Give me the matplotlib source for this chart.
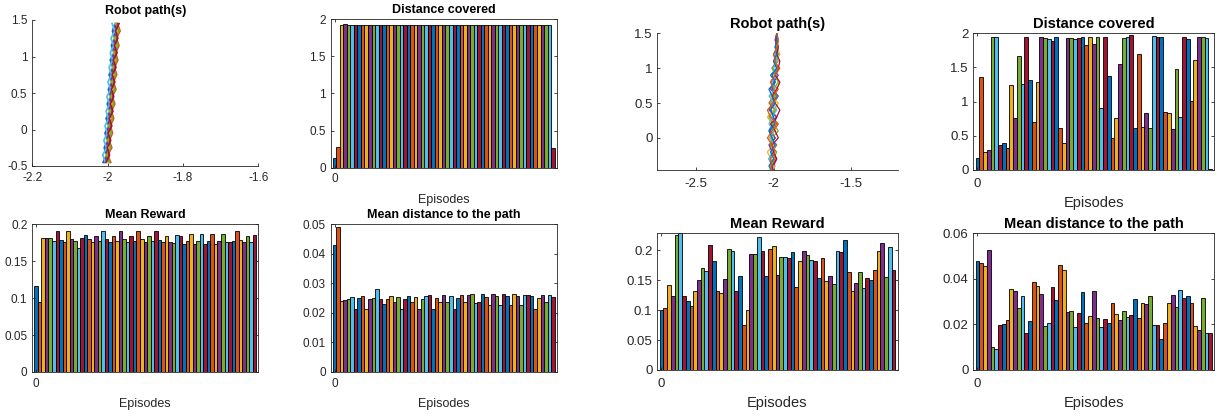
import matplotlib
matplotlib.use("Agg")
import matplotlib.pyplot as plt
from matplotlib.ticker import FuncFormatter

plt.rcParams["font.family"] = ["Liberation Sans", "DejaVu Sans"]
plt.rcParams["axes.unicode_minus"] = False

# MATLAB default colour order
MATLAB_COLORS = ["#0072BD", "#D95319", "#EDB120", "#7E2F8E",
                 "#77AC30", "#4DBEEE", "#A2142F"]
AX_COLOR = "#262626"
W, H = 1219, 418

# ---------------- left figure (short run) ----------------
left_distance = [0.13, 0.28] + [1.92, 1.935] + [1.92] * 58 + [0.26]

left_reward = [0.116, 0.095, 0.182, 0.181, 0.181, 0.177, 0.191, 0.179, 0.176, 0.191,
               0.180, 0.178, 0.168, 0.181, 0.186, 0.180, 0.176, 0.184, 0.177, 0.191,
               0.180, 0.176, 0.184, 0.177, 0.191, 0.180, 0.176, 0.184, 0.177, 0.191,
               0.180, 0.176, 0.184, 0.177, 0.191, 0.179, 0.176, 0.184, 0.176, 0.175,
               0.186, 0.184, 0.174, 0.178, 0.187, 0.174, 0.177, 0.187, 0.174, 0.177,
               0.187, 0.174, 0.177, 0.187, 0.176, 0.176, 0.177, 0.191, 0.179, 0.176,
               0.184, 0.176, 0.185]

left_path_dist = [0.0430, 0.0492, 0.0240, 0.0244, 0.0246, 0.0255, 0.0213, 0.0250, 0.0258, 0.0214,
                  0.0248, 0.0252, 0.0282, 0.0246, 0.0229, 0.0248, 0.0258, 0.0236, 0.0255, 0.0212,
                  0.0248, 0.0258, 0.0236, 0.0255, 0.0212, 0.0248, 0.0258, 0.0260, 0.0213, 0.0250,
                  0.0237, 0.0260, 0.0236, 0.0258, 0.0213, 0.0250, 0.0260, 0.0237, 0.0262, 0.0264,
                  0.0232, 0.0237, 0.0265, 0.0255, 0.0227, 0.0265, 0.0257, 0.0228, 0.0265, 0.0257,
                  0.0227, 0.0265, 0.0257, 0.0227, 0.0260, 0.0260, 0.0258, 0.0213, 0.0250, 0.0260,
                  0.0237, 0.0262, 0.0255]

left_path_y = [-0.45, -0.35, -0.25, -0.15, -0.05, 0.05, 0.15, 0.25, 0.35, 0.45,
               0.55, 0.65, 0.75, 0.85, 0.95, 1.05, 1.15, 1.25, 1.35, 1.45]
left_paths_x = [
    [-2.012, -2.003, -2.009, -2.000, -2.007, -1.997, -2.004, -1.994, -2.001, -1.992,
     -1.998, -1.989, -1.996, -1.986, -1.993, -1.983, -1.990, -1.981, -1.987, -1.980],
    [-1.992, -2.000, -1.989, -1.996, -1.987, -1.993, -1.984, -1.990, -1.981, -1.988,
     -1.978, -1.985, -1.976, -1.982, -1.973, -1.979, -1.970, -1.977, -1.967, -1.974],
    [-1.998, -2.005, -1.995, -2.002, -1.993, -1.999, -1.990, -1.996, -1.987, -1.994,
     -1.984, -1.991, -1.982, -1.988, -1.979, -1.985, -1.976, -1.983, -1.973, -1.980],
    [-2.009, -2.000, -2.006, -1.997, -2.004, -1.994, -2.001, -1.991, -1.998, -1.989,
     -1.995, -1.986, -1.993, -1.983, -1.990, -1.980, -1.987, -1.978, -1.984, -1.975],
    [-1.995, -2.002, -1.992, -1.999, -1.990, -1.996, -1.987, -1.993, -1.984, -1.991,
     -1.981, -1.988, -1.979, -1.985, -1.976, -1.982, -1.973, -1.980, -1.970, -1.977],
    [-2.006, -2.013, -2.003, -2.010, -2.001, -2.007, -1.998, -2.004, -1.995, -2.002,
     -1.992, -1.999, -1.990, -1.996, -1.987, -1.993, -1.984, -1.991, -1.981, -1.988],
    [-2.004, -1.995, -2.001, -1.992, -1.999, -1.989, -1.996, -1.986, -1.993, -1.984,
     -1.990, -1.981, -1.988, -1.978, -1.985, -1.975, -1.982, -1.973, -1.979, -1.970],
]

# ---------------- right figure (learning run) ----------------
right_distance = [0.17, 1.36, 0.27, 0.29, 1.94, 1.94, 0.36, 0.39, 0.32, 1.24,
                  0.76, 1.67, 1.26, 1.94, 1.32, 0.70, 1.29, 1.94, 1.93, 1.92,
                  1.89, 1.94, 0.62, 0.39, 1.93, 1.93, 1.92, 1.93, 1.95, 1.83,
                  1.94, 1.84, 1.94, 0.90, 1.95, 1.37, 0.47, 0.76, 1.55, 1.93,
                  1.95, 1.97, 0.61, 1.70, 0.63, 0.83, 0.62, 1.96, 1.94, 1.94,
                  0.85, 0.83, 0.60, 1.48, 0.78, 1.94, 1.92, 1.01, 1.61, 1.94,
                  1.94, 1.93, 0.02]

right_reward = [0.1005, 0.103, 0.141, 0.123, 0.2246, 0.229, 0.124, 0.115, 0.106, 0.131,
                0.150, 0.170, 0.165, 0.208, 0.182, 0.132, 0.129, 0.151, 0.202, 0.198,
                0.132, 0.157, 0.075, 0.0995, 0.193, 0.193, 0.222, 0.198, 0.157, 0.201,
                0.206, 0.159, 0.189, 0.189, 0.187, 0.196, 0.139, 0.182, 0.198, 0.191,
                0.184, 0.182, 0.154, 0.187, 0.148, 0.157, 0.144, 0.198, 0.197, 0.217,
                0.164, 0.131, 0.145, 0.164, 0.136, 0.154, 0.150, 0.166, 0.198, 0.212,
                0.155, 0.205, 0.166]

right_path_dist = [0.0478, 0.0469, 0.0457, 0.0525, 0.0103, 0.0094, 0.0196, 0.0204, 0.0218, 0.0354,
                   0.0347, 0.0273, 0.0326, 0.0161, 0.0217, 0.0385, 0.0369, 0.0332, 0.0192, 0.0205,
                   0.0366, 0.0307, 0.0462, 0.0441, 0.0254, 0.0257, 0.0189, 0.0249, 0.0342, 0.0208,
                   0.0236, 0.0347, 0.0227, 0.0189, 0.0226, 0.0205, 0.0292, 0.0246, 0.0221, 0.0258,
                   0.0232, 0.0240, 0.0311, 0.0227, 0.0296, 0.0289, 0.0323, 0.0196, 0.0196, 0.0136,
                   0.0206, 0.0293, 0.0329, 0.0276, 0.0351, 0.0316, 0.0323, 0.0292, 0.0195, 0.0174,
                   0.0314, 0.0161, 0.0161]

right_path_y = [-0.5, -0.4, -0.3, -0.2, -0.1, 0.0, 0.1, 0.2, 0.3, 0.4, 0.5,
                0.6, 0.7, 0.8, 0.9, 1.0, 1.1, 1.2, 1.3, 1.4, 1.5]
right_paths_x = [
    [-2.02, -2.01, -2.03, -2.00, -2.02, -1.99, -2.03, -2.01, -1.98, -2.02, -2.00,
     -1.97, -2.01, -1.99, -2.02, -1.98, -2.00, -1.97, -1.99, -1.98, -1.98],
    [-2.00, -2.02, -1.99, -2.01, -1.98, -2.02, -2.00, -1.97, -2.01, -1.99, -2.03,
     -2.00, -1.97, -2.02, -1.99, -1.96, -2.00, -1.98, -1.97, -1.99, -1.98],
    [-2.01, -1.99, -2.02, -2.04, -2.00, -2.03, -1.99, -2.01, -2.04, -2.00, -1.97,
     -2.02, -1.98, -1.96, -2.00, -1.97, -1.99, -1.96, -1.98, -1.97, -1.98],
    [-2.03, -2.00, -1.98, -2.01, -2.03, -1.99, -2.02, -2.00, -1.98, -2.03, -2.01,
     -1.98, -2.02, -2.00, -1.97, -2.01, -1.98, -2.00, -1.97, -1.99, -1.98],
    [-1.99, -2.02, -2.00, -1.98, -2.02, -2.01, -1.97, -2.00, -2.03, -1.99, -2.02,
     -1.99, -2.00, -1.97, -1.99, -2.01, -1.97, -1.99, -1.98, -1.97, -1.98],
    [-2.02, -2.00, -2.03, -2.01, -1.99, -2.02, -2.00, -2.03, -2.01, -1.98, -2.00,
     -2.03, -1.99, -2.01, -1.98, -2.00, -1.98, -1.99, -1.97, -1.98, -1.98],
    [-2.00, -2.01, -1.98, -2.00, -2.01, -1.97, -1.99, -2.02, -1.98, -1.96, -1.99,
     -2.01, -1.98, -1.96, -1.99, -1.97, -1.96, -1.98, -1.97, -1.98, -1.98],
    [-2.01, -2.03, -2.00, -2.02, -1.99, -2.01, -2.03, -1.99, -2.00, -2.02, -1.99,
     -2.01, -2.03, -1.99, -2.01, -1.98, -2.00, -1.98, -1.99, -1.98, -1.98],
    [-2.03, -2.01, -2.02, -1.99, -2.01, -2.04, -2.01, -1.98, -2.02, -2.04, -2.00,
     -1.98, -2.00, -2.02, -1.99, -1.97, -1.99, -2.00, -1.98, -1.97, -1.98],
]


def px_rect(l, t, r, b):
    """Axes rectangle from pixel edges (origin top-left)."""
    return [l / W, 1 - b / H, (r - l) / W, (b - t) / H]


def style_axes(ax, fs, xpad, ypad, box=True):
    for side, sp in ax.spines.items():
        sp.set_color(AX_COLOR)
        sp.set_linewidth(0.6)
    if not box:
        ax.spines["top"].set_visible(False)
        ax.spines["right"].set_visible(False)
    ax.tick_params(direction="in", length=2.5, width=0.6, colors=AX_COLOR,
                   labelsize=fs, top=box, right=box)
    ax.tick_params(axis="x", pad=xpad)
    ax.tick_params(axis="y", pad=ypad)
    fmt = FuncFormatter(lambda v, p: "%g" % v)
    ax.xaxis.set_major_formatter(fmt)
    ax.yaxis.set_major_formatter(fmt)


def bar_panel(ax, values, title, ylim, yticks, fs, tfs, xpad, ypad, tpad, lpad):
    colors = [MATLAB_COLORS[i % 7] for i in range(len(values))]
    ax.bar(range(len(values)), values, width=1.0, color=colors,
           edgecolor="black", linewidth=0.6)
    ax.set_xlim(-1.1, len(values) + 0.1)
    ax.set_ylim(*ylim)
    ax.set_yticks(yticks)
    ax.set_xticks([0])
    style_axes(ax, fs, xpad, ypad)
    ax.set_title(title, fontsize=tfs, fontweight="bold", pad=tpad)
    ax.set_xlabel("Episodes", fontsize=tfs, color=AX_COLOR, labelpad=lpad)


def path_panel(ax, ys, paths, xlim, ylim, xticks, yticks, fs, tfs, xpad, ypad, tpad, lw):
    for i, xs in enumerate(paths):
        ax.plot(xs, ys, color=MATLAB_COLORS[i % 7], linewidth=lw)
    ax.set_xlim(*xlim)
    ax.set_ylim(*ylim)
    ax.set_xticks(xticks)
    ax.set_yticks(yticks)
    style_axes(ax, fs, xpad, ypad, box=False)
    ax.set_title("Robot path(s)", fontsize=tfs, fontweight="bold", pad=tpad)


fig = plt.figure(figsize=(W / 100, H / 100), dpi=100)

# left figure
ax = fig.add_axes(px_rect(32.3, 20, 258.3, 166))
path_panel(ax, left_path_y, left_paths_x, (-2.2, -1.6), (-0.5, 1.5),
           [-2.2, -2, -1.8, -1.6], [-0.5, 0, 0.5, 1, 1.5], 8.5, 9, 4, 3.5, 4.5, 1.3)
ax = fig.add_axes(px_rect(330.7, 19, 556.7, 167.7))
bar_panel(ax, left_distance, "Distance covered", (0, 2), [0, 0.5, 1, 1.5, 2],
          8.5, 9, 4, 3.5, 4.5, 6)
ax = fig.add_axes(px_rect(32.3, 224.3, 258.3, 372))
bar_panel(ax, left_reward, "Mean Reward", (0, 0.2), [0, 0.05, 0.1, 0.15, 0.2],
          8.5, 9, 4, 3.5, 4.5, 6)
ax = fig.add_axes(px_rect(330.7, 224.3, 556.7, 372))
bar_panel(ax, left_path_dist, "Mean distance to the path", (0, 0.05),
          [0, 0.01, 0.02, 0.03, 0.04, 0.05], 8.5, 9, 4, 3.5, 4.5, 6)

# right figure
ax = fig.add_axes(px_rect(657.3, 33.3, 897.7, 170))
path_panel(ax, right_path_y, right_paths_x, (-2.75, -1.2), (-0.46, 1.5),
           [-2.5, -2, -1.5], [0, 0.5, 1, 1.5], 9.5, 10.5, 5.5, 3.5, 3.5, 0.9)
ax = fig.add_axes(px_rect(973.3, 33.3, 1214.3, 170))
bar_panel(ax, right_distance, "Distance covered", (0, 2), [0, 0.5, 1, 1.5, 2],
          9.5, 10.5, 5.5, 3.5, 3.5, 4.5)
ax = fig.add_axes(px_rect(657.3, 233.3, 897.7, 370))
bar_panel(ax, right_reward, "Mean Reward", (0, 0.228), [0, 0.05, 0.1, 0.15, 0.2],
          9.5, 10.5, 5.5, 3.5, 3.5, 4.5)
ax = fig.add_axes(px_rect(973.3, 233.3, 1214.3, 370))
bar_panel(ax, right_path_dist, "Mean distance to the path", (0, 0.06),
          [0, 0.02, 0.04, 0.06], 9.5, 10.5, 5.5, 3.5, 3.5, 4.5)

fig.savefig("out.png", dpi=100)
